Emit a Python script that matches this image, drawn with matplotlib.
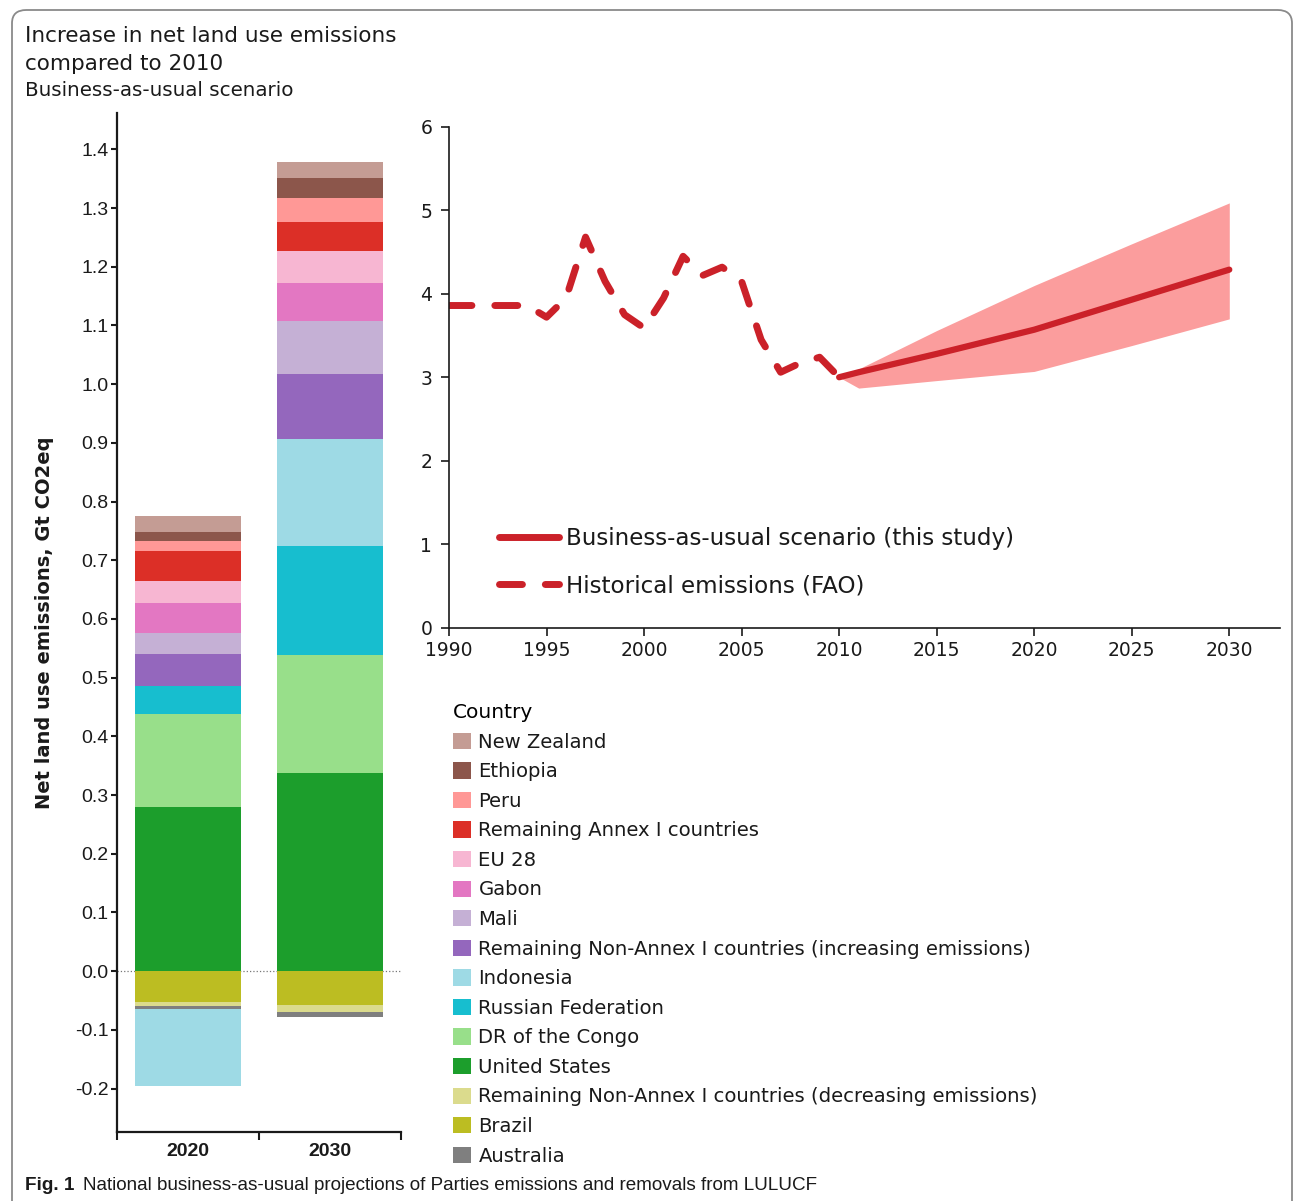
import matplotlib
matplotlib.use('Agg')
import matplotlib.pyplot as plt
from matplotlib.patches import Patch, FancyBboxPatch
from matplotlib.lines import Line2D
import numpy as np

# net land use emissions relative to 2010, Gt CO2eq (legend order, top to bottom)
countries = ['New Zealand', 'Ethiopia', 'Peru', 'Remaining Annex I countries', 'EU 28',
             'Gabon', 'Mali', 'Remaining Non-Annex I countries (increasing emissions)',
             'Indonesia', 'Russian Federation', 'DR of the Congo', 'United States',
             'Remaining Non-Annex I countries (decreasing emissions)', 'Brazil', 'Australia']
emis_2020 = [0.027, 0.017, 0.017, 0.050, 0.038, 0.051, 0.036, 0.055,
             -0.130, 0.047, 0.158, 0.280, -0.007, -0.052, -0.006]
emis_2030 = [0.028, 0.033, 0.041, 0.050, 0.055, 0.065, 0.089, 0.111,
             0.182, 0.186, 0.201, 0.338, -0.012, -0.058, -0.008]
bar_years = ['2020', '2030']
# removals are stacked downwards from zero in this order
neg_order = ['Brazil', 'Remaining Non-Annex I countries (decreasing emissions)',
             'Australia', 'Indonesia']

# total net land use emissions, Gt CO2eq
hist_years = list(range(1990, 2011))
hist_emis = [3.86, 3.86, 3.86, 3.86, 3.86, 3.72, 3.95, 4.68, 4.15, 3.75, 3.59,
             3.95, 4.45, 4.22, 4.32, 4.15, 3.45, 3.06, 3.17, 3.24, 3.00]
bau_years = [2010, 2011, 2015, 2020, 2025, 2030]
bau_mid = [3.00, 3.06, 3.28, 3.57, 3.93, 4.29]
bau_low = [3.00, 2.87, 2.96, 3.07, 3.38, 3.70]
bau_high = [3.00, 3.10, 3.56, 4.10, 4.60, 5.09]

colours = ['#c49c94', '#8c564b', '#ff9896', '#dc2f27', '#f7b6d2', '#e377c2', '#c5b0d5',
           '#9467bd', '#9edae5', '#17becf', '#98df8a', '#1c9e2c', '#dbdb8d', '#bcbd22', '#7f7f7f']
red = '#cb2129'
ink = '#1a1a1a'

plt.rcParams['font.family'] = ['DejaVu Sans']
W, H = 1295, 1201
fig = plt.figure(figsize=(W / 100, H / 100), dpi=100)

def fx(px):
    return px / W

def fy(py):
    return 1 - py / H

# ---- stacked bars ----
ax = fig.add_axes([fx(117), fy(1132), fx(401) - fx(117), fy(113) - fy(1132)])
x = np.arange(len(bar_years))
vals = np.array([emis_2020, emis_2030]).T
pos_base = np.zeros(len(bar_years))
neg_base = np.zeros(len(bar_years))
for name in reversed(countries):
    i = countries.index(name)
    pos = np.clip(vals[i], 0, None)
    if pos.any():
        ax.bar(x, pos, 0.75, bottom=pos_base, color=colours[i], zorder=2)
        pos_base += pos
for name in neg_order:
    i = countries.index(name)
    neg = np.clip(vals[i], None, 0)
    if neg.any():
        ax.bar(x, neg, 0.75, bottom=neg_base, color=colours[i], zorder=2)
        neg_base += neg
ax.axhline(0, color='#777777', lw=0.9, ls=':', zorder=1)

ax.set_xlim(-0.5, 1.5)
ax.set_ylim(-0.274, 1.462)
ax.set_yticks(np.arange(-0.2, 1.41, 0.1))
ax.set_yticklabels(['%.1f' % v for v in np.arange(-0.2, 1.41, 0.1)],
                   fontfamily='Liberation Sans', fontsize=14, color=ink)
ax.set_xticks(x)
ax.set_xticklabels(bar_years, fontfamily='Liberation Sans', fontsize=14,
                   fontweight='bold', color=ink)
ax.set_xticks([-0.5, 0.5, 1.5], minor=True)
ax.tick_params(axis='x', which='major', length=0, pad=8)
ax.tick_params(axis='x', which='minor', length=6, width=1.5, color=ink)
ax.tick_params(axis='y', length=4, width=1.5, color=ink, pad=2)
for side in ['top', 'right']:
    ax.spines[side].set_visible(False)
for side in ['left', 'bottom']:
    ax.spines[side].set_linewidth(1.6)
    ax.spines[side].set_color(ink)
ax.set_ylabel('Net land use emissions, Gt CO2eq', fontsize=14, fontweight='bold', color=ink)
ax.yaxis.set_label_coords(-0.222, 0.5)

# ---- emissions time series ----
ax2 = fig.add_axes([fx(449), fy(627.5), fx(1280) - fx(449), fy(127) - fy(627.5)])
ax2.fill_between(bau_years, bau_low, bau_high, color='#fb9d9d', lw=0, zorder=1)
ax2.plot(bau_years, bau_mid, color=red, lw=4.5, solid_capstyle='round', zorder=3)
ax2.plot(hist_years, hist_emis, color=red, lw=5, dashes=(3.3, 3.3),
         dash_capstyle='round', zorder=2)
ax2.set_xlim(1990, 2032.6)
ax2.set_ylim(0, 6)
ax2.set_xticks(range(1990, 2031, 5))
ax2.set_yticks(range(0, 7))
ax2.tick_params(labelsize=13.5, labelcolor=ink, length=6, width=1.2, color=ink)
ax2.tick_params(axis='x', pad=4)
ax2.tick_params(axis='y', pad=6)
for side in ['top', 'right']:
    ax2.spines[side].set_visible(False)
for side in ['left', 'bottom']:
    ax2.spines[side].set_linewidth(1.2)
    ax2.spines[side].set_color(ink)

line_handles = [
    Line2D([], [], color=red, lw=5, solid_capstyle='round'),
    Line2D([], [], color=red, lw=5, dashes=(3.3, 3.3), dash_capstyle='round'),
]
ax2.legend(line_handles, ['Business-as-usual scenario (this study)', 'Historical emissions (FAO)'],
           loc='upper left', bbox_to_anchor=(fx(499), fy(527)), bbox_transform=fig.transFigure,
           frameon=False, fontsize=16.6, handlelength=2.6, handletextpad=0.3,
           labelspacing=1.05, borderpad=0, borderaxespad=0, labelcolor=ink)

# ---- country legend ----
patches = [Patch(facecolor=c, label=n) for n, c in zip(countries, colours)]
fig.legend(handles=patches, title='Country', loc='upper left',
           bbox_to_anchor=(fx(453), fy(703)), frameon=False, fontsize=14.1,
           title_fontsize=14.5, alignment='left', handlelength=0.9, handleheight=0.9,
           handletextpad=0.4, labelspacing=0.54, borderpad=0, borderaxespad=0,
           labelcolor=ink)

# ---- titles ----
fig.text(fx(25), fy(36), 'Increase in net land use emissions', fontsize=15.5,
         color=ink, va='center')
fig.text(fx(25), fy(64), 'compared to 2010', fontsize=15.5, color=ink, va='center')
fig.text(fx(25), fy(91), 'Business-as-usual scenario', fontsize=14.3, color=ink, va='center')

fig_no = fig.text(fx(25), fy(1185), 'Fig. 1', fontsize=13.6, fontweight='bold', color=ink,
                  va='center', family='Liberation Sans')
fig.canvas.draw()
x_end = fig_no.get_window_extent().x1 / W
fig.text(x_end + fx(9), fy(1185), 'National business-as-usual projections of Parties '
         'emissions and removals from LULUCF', fontsize=13.6, color=ink, va='center',
         family='Liberation Sans')

# rounded panel border, open at the bottom
border = FancyBboxPatch((fx(12), -0.05), fx(1292) - fx(12), fy(10) + 0.05,
                        boxstyle='round,pad=0,rounding_size=0.011',
                        transform=fig.transFigure, fill=False, edgecolor='#8a8a8a', lw=1.3)
fig.patches.append(border)

fig.savefig('out.png', dpi=100)
